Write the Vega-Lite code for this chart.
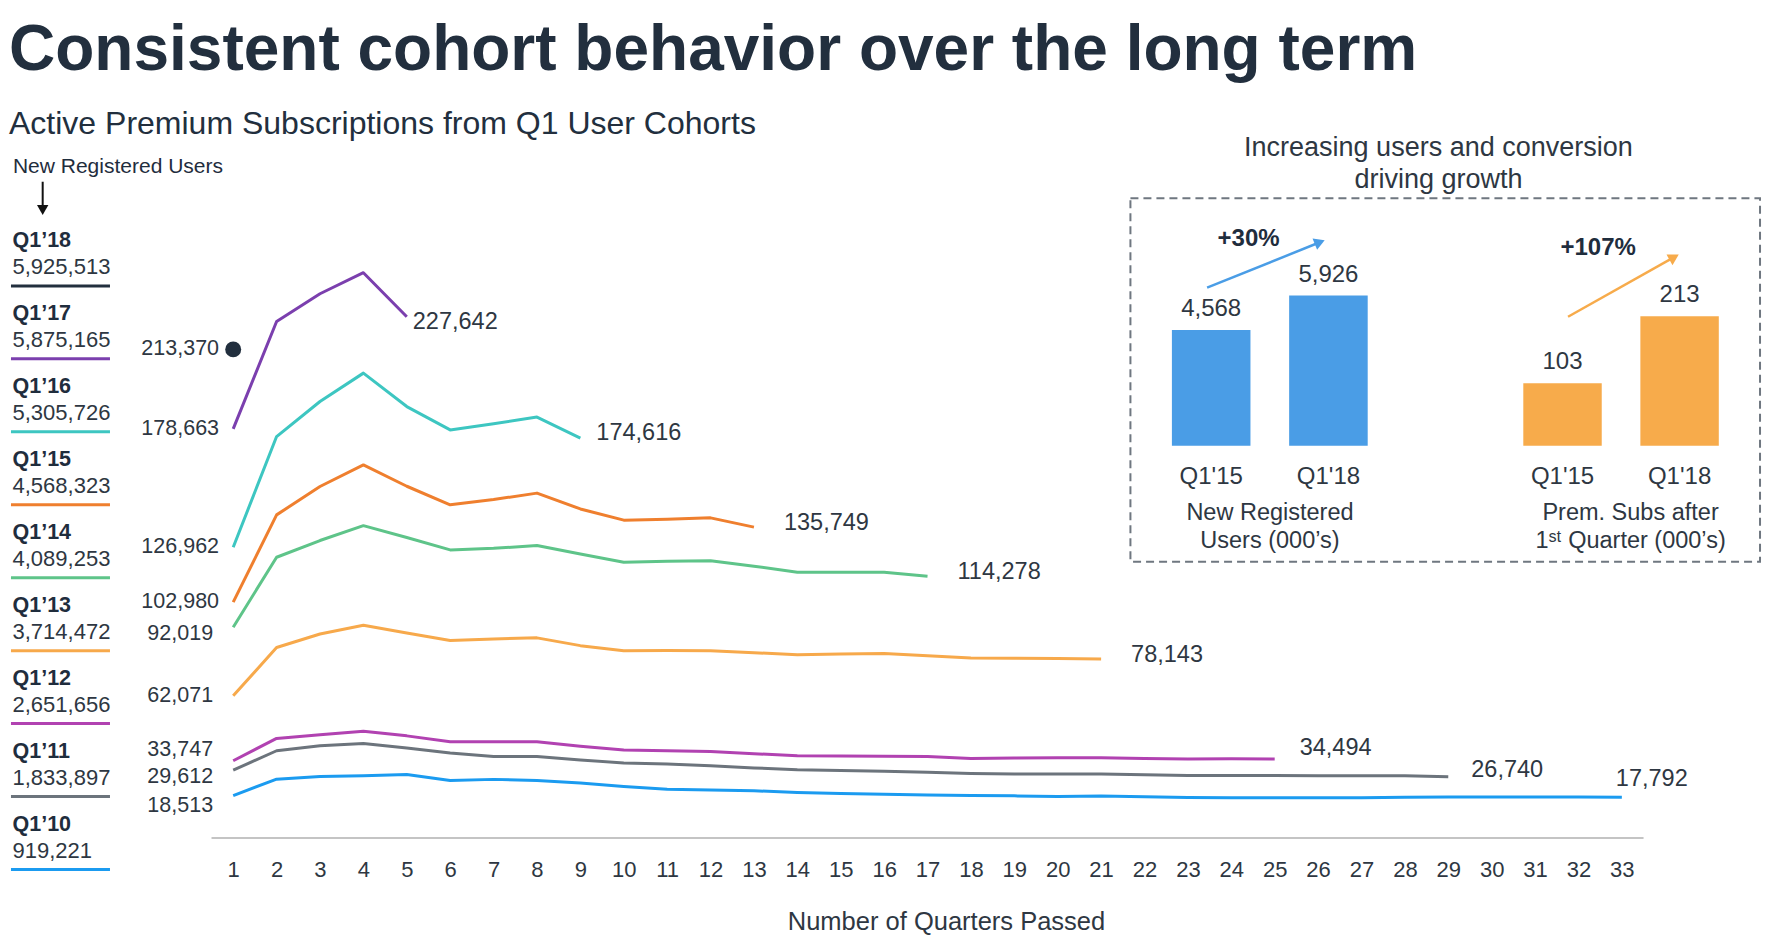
{
  "$schema": "https://vega.github.io/schema/vega-lite/v6.json",
  "width": 1771,
  "height": 698,
  "autosize": {"type": "none"},
  "padding": {"left": 0, "top": 140, "right": 0, "bottom": 104},
  "background": "white",
  "config": {"view": {"stroke": null}, "font": "Liberation Sans"},
  "title": {
    "text": "Consistent cohort behavior over the long term",
    "subtitle": "Active Premium Subscriptions from Q1 User Cohorts",
    "anchor": "start", "frame": "group", "dx": 9, "dy": 6, "offset": 0,
    "font": "Liberation Sans", "fontSize": 64, "fontWeight": "bold", "color": "#222f3e",
    "subtitleFont": "Liberation Sans", "subtitleFontSize": 32, "subtitleColor": "#222f3e", "subtitlePadding": 26
  },
  "datasets": {
    "series": [
      {"c":"Q1’18","q":1,"v":213370},
      {"c":"Q1’17","q":1,"v":178663},{"c":"Q1’17","q":2,"v":225570},{"c":"Q1’17","q":3,"v":237670},{"c":"Q1’17","q":4,"v":246850},{"c":"Q1’17","q":5,"v":227642},
      {"c":"Q1’16","q":1,"v":126962},{"c":"Q1’16","q":2,"v":175300},{"c":"Q1’16","q":3,"v":190600},{"c":"Q1’16","q":4,"v":203000},{"c":"Q1’16","q":5,"v":188400},{"c":"Q1’16","q":6,"v":178200},{"c":"Q1’16","q":7,"v":180900},{"c":"Q1’16","q":8,"v":183800},{"c":"Q1’16","q":9,"v":174616},
      {"c":"Q1’15","q":1,"v":102980},{"c":"Q1’15","q":2,"v":141100},{"c":"Q1’15","q":3,"v":153500},{"c":"Q1’15","q":4,"v":162900},{"c":"Q1’15","q":5,"v":153600},{"c":"Q1’15","q":6,"v":145500},{"c":"Q1’15","q":7,"v":147800},{"c":"Q1’15","q":8,"v":150600},{"c":"Q1’15","q":9,"v":143700},{"c":"Q1’15","q":10,"v":138800},{"c":"Q1’15","q":11,"v":139200},{"c":"Q1’15","q":12,"v":139800},{"c":"Q1’15","q":13,"v":135749},
      {"c":"Q1’14","q":1,"v":92019},{"c":"Q1’14","q":2,"v":122600},{"c":"Q1’14","q":3,"v":129900},{"c":"Q1’14","q":4,"v":136400},{"c":"Q1’14","q":5,"v":131200},{"c":"Q1’14","q":6,"v":125800},{"c":"Q1’14","q":7,"v":126500},{"c":"Q1’14","q":8,"v":127700},{"c":"Q1’14","q":9,"v":124000},{"c":"Q1’14","q":10,"v":120400},{"c":"Q1’14","q":11,"v":120800},{"c":"Q1’14","q":12,"v":121100},{"c":"Q1’14","q":13,"v":118700},{"c":"Q1’14","q":14,"v":116000},{"c":"Q1’14","q":15,"v":116000},{"c":"Q1’14","q":16,"v":116000},{"c":"Q1’14","q":17,"v":114278},
      {"c":"Q1’13","q":1,"v":62071},{"c":"Q1’13","q":2,"v":83200},{"c":"Q1’13","q":3,"v":89100},{"c":"Q1’13","q":4,"v":92900},{"c":"Q1’13","q":5,"v":89500},{"c":"Q1’13","q":6,"v":86200},{"c":"Q1’13","q":7,"v":86900},{"c":"Q1’13","q":8,"v":87400},{"c":"Q1’13","q":9,"v":84000},{"c":"Q1’13","q":10,"v":81800},{"c":"Q1’13","q":11,"v":81900},{"c":"Q1’13","q":12,"v":81800},{"c":"Q1’13","q":13,"v":80900},{"c":"Q1’13","q":14,"v":80000},{"c":"Q1’13","q":15,"v":80300},{"c":"Q1’13","q":16,"v":80600},{"c":"Q1’13","q":17,"v":79600},{"c":"Q1’13","q":18,"v":78600},{"c":"Q1’13","q":19,"v":78500},{"c":"Q1’13","q":20,"v":78400},{"c":"Q1’13","q":21,"v":78143},
      {"c":"Q1’12","q":1,"v":33747},{"c":"Q1’12","q":2,"v":43500},{"c":"Q1’12","q":3,"v":45100},{"c":"Q1’12","q":4,"v":46600},{"c":"Q1’12","q":5,"v":44600},{"c":"Q1’12","q":6,"v":42000},{"c":"Q1’12","q":7,"v":42000},{"c":"Q1’12","q":8,"v":42000},{"c":"Q1’12","q":9,"v":40100},{"c":"Q1’12","q":10,"v":38400},{"c":"Q1’12","q":11,"v":38100},{"c":"Q1’12","q":12,"v":37800},{"c":"Q1’12","q":13,"v":36800},{"c":"Q1’12","q":14,"v":35900},{"c":"Q1’12","q":15,"v":35800},{"c":"Q1’12","q":16,"v":35750},{"c":"Q1’12","q":17,"v":35600},{"c":"Q1’12","q":18,"v":34750},{"c":"Q1’12","q":19,"v":34880},{"c":"Q1’12","q":20,"v":35000},{"c":"Q1’12","q":21,"v":35000},{"c":"Q1’12","q":22,"v":34750},{"c":"Q1’12","q":23,"v":34450},{"c":"Q1’12","q":24,"v":34600},{"c":"Q1’12","q":25,"v":34494},
      {"c":"Q1’11","q":1,"v":29612},{"c":"Q1’11","q":2,"v":38100},{"c":"Q1’11","q":3,"v":40300},{"c":"Q1’11","q":4,"v":41300},{"c":"Q1’11","q":5,"v":39300},{"c":"Q1’11","q":6,"v":37100},{"c":"Q1’11","q":7,"v":35600},{"c":"Q1’11","q":8,"v":35600},{"c":"Q1’11","q":9,"v":34100},{"c":"Q1’11","q":10,"v":32800},{"c":"Q1’11","q":11,"v":32300},{"c":"Q1’11","q":12,"v":31500},{"c":"Q1’11","q":13,"v":30600},{"c":"Q1’11","q":14,"v":29800},{"c":"Q1’11","q":15,"v":29500},{"c":"Q1’11","q":16,"v":29200},{"c":"Q1’11","q":17,"v":28700},{"c":"Q1’11","q":18,"v":28200},{"c":"Q1’11","q":19,"v":28000},{"c":"Q1’11","q":20,"v":27900},{"c":"Q1’11","q":21,"v":28000},{"c":"Q1’11","q":22,"v":27600},{"c":"Q1’11","q":23,"v":27300},{"c":"Q1’11","q":24,"v":27300},{"c":"Q1’11","q":25,"v":27300},{"c":"Q1’11","q":26,"v":27200},{"c":"Q1’11","q":27,"v":27200},{"c":"Q1’11","q":28,"v":27200},{"c":"Q1’11","q":29,"v":26740},
      {"c":"Q1’10","q":1,"v":18513},{"c":"Q1’10","q":2,"v":25700},{"c":"Q1’10","q":3,"v":26900},{"c":"Q1’10","q":4,"v":27200},{"c":"Q1’10","q":5,"v":27700},{"c":"Q1’10","q":6,"v":25100},{"c":"Q1’10","q":7,"v":25600},{"c":"Q1’10","q":8,"v":25100},{"c":"Q1’10","q":9,"v":24000},{"c":"Q1’10","q":10,"v":22500},{"c":"Q1’10","q":11,"v":21300},{"c":"Q1’10","q":12,"v":21000},{"c":"Q1’10","q":13,"v":20600},{"c":"Q1’10","q":14,"v":19900},{"c":"Q1’10","q":15,"v":19400},{"c":"Q1’10","q":16,"v":19100},{"c":"Q1’10","q":17,"v":18800},{"c":"Q1’10","q":18,"v":18600},{"c":"Q1’10","q":19,"v":18400},{"c":"Q1’10","q":20,"v":18100},{"c":"Q1’10","q":21,"v":18300},{"c":"Q1’10","q":22,"v":18000},{"c":"Q1’10","q":23,"v":17700},{"c":"Q1’10","q":24,"v":17600},{"c":"Q1’10","q":25,"v":17600},{"c":"Q1’10","q":26,"v":17550},{"c":"Q1’10","q":27,"v":17550},{"c":"Q1’10","q":28,"v":17800},{"c":"Q1’10","q":29,"v":17850},{"c":"Q1’10","q":30,"v":17900},{"c":"Q1’10","q":31,"v":17900},{"c":"Q1’10","q":32,"v":17900},{"c":"Q1’10","q":33,"v":17792}
    ],
    "legend": [
      {"c":"Q1’18","users":5925513,"rank":0},
      {"c":"Q1’17","users":5875165,"rank":1},
      {"c":"Q1’16","users":5305726,"rank":2},
      {"c":"Q1’15","users":4568323,"rank":3},
      {"c":"Q1’14","users":4089253,"rank":4},
      {"c":"Q1’13","users":3714472,"rank":5},
      {"c":"Q1’12","users":2651656,"rank":6},
      {"c":"Q1’11","users":1833897,"rank":7},
      {"c":"Q1’10","users":919221,"rank":8}
    ],
    "one": [{}]
  },
  "layer": [
    {
      "data": {"name": "series"},
      "encoding": {
        "x": {"field": "q", "type": "quantitative",
          "scale": {"domain": [-4.374, 36.437], "nice": false, "zero": false},
          "axis": {"values": [1,2,3,4,5,6,7,8,9,10,11,12,13,14,15,16,17,18,19,20,21,22,23,24,25,26,27,28,29,30,31,32,33],
            "format": "d", "domain": false, "ticks": false, "tickSize": 0, "grid": false,
            "labelFont": "Liberation Sans", "labelFontSize": 22, "labelColor": "#2e3742", "labelPadding": 21,
            "labelFlush": false, "labelOverlap": false,
            "title": "Number of Quarters Passed", "titleFont": "Liberation Sans", "titleFontSize": 25.5,
            "titleFontWeight": "normal", "titleColor": "#2e3742", "titlePadding": 29, "titleX": 946}},
        "y": {"field": "v", "type": "quantitative", "scale": {"domain": [0, 304800], "nice": false, "zero": false}, "axis": null},
        "color": {"field": "c", "type": "nominal",
          "scale": {"domain": ["Q1’18","Q1’17","Q1’16","Q1’15","Q1’14","Q1’13","Q1’12","Q1’11","Q1’10"],
                    "range": ["#222f3e","#7b3fae","#3dc6c1","#ef7f2e","#5ec489","#f7a94b","#b142b1","#6c747c","#1b9bf0"]},
          "legend": null}
      },
      "layer": [
        {"mark": {"type": "line", "strokeWidth": 3, "strokeJoin": "round"}},
        {"transform": [{"filter": "datum.c === 'Q1’18'"}], "mark": {"type": "point", "filled": true, "size": 255, "opacity": 1}},
        {"transform": [{"filter": "datum.q === 1 && indexof(['Q1’18','Q1’17','Q1’16','Q1’15','Q1’13'], datum.c) >= 0"}],
         "mark": {"type": "text", "align": "center", "baseline": "middle", "dx": -53, "dy": 0, "fontSize": 21.5},
         "encoding": {"text": {"field": "v", "format": ","}, "color": {"value": "#2e3742"}}},
        {"transform": [{"filter": "datum.q === 1 && indexof(['Q1’14','Q1’11'], datum.c) >= 0"}],
         "mark": {"type": "text", "align": "center", "baseline": "middle", "dx": -53, "dy": 7, "fontSize": 21.5},
         "encoding": {"text": {"field": "v", "format": ","}, "color": {"value": "#2e3742"}}},
        {"transform": [{"filter": "datum.q === 1 && datum.c === 'Q1’12'"}],
         "mark": {"type": "text", "align": "center", "baseline": "middle", "dx": -53, "dy": -11, "fontSize": 21.5},
         "encoding": {"text": {"field": "v", "format": ","}, "color": {"value": "#2e3742"}}},
        {"transform": [{"filter": "datum.q === 1 && datum.c === 'Q1’10'"}],
         "mark": {"type": "text", "align": "center", "baseline": "middle", "dx": -53, "dy": 10, "fontSize": 21.5},
         "encoding": {"text": {"field": "v", "format": ","}, "color": {"value": "#2e3742"}}},
        {"transform": [{"joinaggregate": [{"op": "max", "field": "q", "as": "mq"}], "groupby": ["c"]}, {"filter": "datum.q === datum.mq && datum.c === 'Q1’17'"}],
         "mark": {"type": "text", "align": "left", "baseline": "middle", "dx": 6, "dy": 5, "fontSize": 23.5},
         "encoding": {"text": {"field": "v", "format": ","}, "color": {"value": "#2e3742"}}},
        {"transform": [{"joinaggregate": [{"op": "max", "field": "q", "as": "mq"}], "groupby": ["c"]}, {"filter": "datum.q === datum.mq && datum.c === 'Q1’16'"}],
         "mark": {"type": "text", "align": "left", "baseline": "middle", "dx": 16, "dy": -5, "fontSize": 23.5},
         "encoding": {"text": {"field": "v", "format": ","}, "color": {"value": "#2e3742"}}},
        {"transform": [{"joinaggregate": [{"op": "max", "field": "q", "as": "mq"}], "groupby": ["c"]}, {"filter": "datum.q === datum.mq && indexof(['Q1’15','Q1’14','Q1’13'], datum.c) >= 0"}],
         "mark": {"type": "text", "align": "left", "baseline": "middle", "dx": 30, "dy": -4.5, "fontSize": 23.5},
         "encoding": {"text": {"field": "v", "format": ","}, "color": {"value": "#2e3742"}}},
        {"transform": [{"joinaggregate": [{"op": "max", "field": "q", "as": "mq"}], "groupby": ["c"]}, {"filter": "datum.q === datum.mq && datum.c === 'Q1’12'"}],
         "mark": {"type": "text", "align": "left", "baseline": "middle", "dx": 25, "dy": -11, "fontSize": 23.5},
         "encoding": {"text": {"field": "v", "format": ","}, "color": {"value": "#2e3742"}}},
        {"transform": [{"joinaggregate": [{"op": "max", "field": "q", "as": "mq"}], "groupby": ["c"]}, {"filter": "datum.q === datum.mq && datum.c === 'Q1’11'"}],
         "mark": {"type": "text", "align": "left", "baseline": "middle", "dx": 23, "dy": -7, "fontSize": 23.5},
         "encoding": {"text": {"field": "v", "format": ","}, "color": {"value": "#2e3742"}}},
        {"transform": [{"joinaggregate": [{"op": "max", "field": "q", "as": "mq"}], "groupby": ["c"]}, {"filter": "datum.q === datum.mq && datum.c === 'Q1’10'"}],
         "mark": {"type": "text", "align": "left", "baseline": "middle", "dx": -6, "dy": -18, "fontSize": 23.5},
         "encoding": {"text": {"field": "v", "format": ","}, "color": {"value": "#2e3742"}}}
      ]
    },
    {
      "data": {"name": "one"},
      "encoding": {
        "x": {"datum": 0.5, "type": "quantitative", "scale": {"domain": [-4.374, 36.437], "nice": false, "zero": false}, "axis": null},
        "y": {"datum": 0, "type": "quantitative", "scale": {"domain": [0, 304800], "nice": false, "zero": false}, "axis": null}
      },
      "layer": [
        {"mark": {"type": "rule", "color": "#c4c4c4", "strokeWidth": 2},
         "encoding": {"x2": {"datum": 33.5}}}
      ]
    },
    {
      "data": {"name": "legend"},
      "encoding": {
        "x": {"datum": 0.706, "type": "quantitative", "scale": {"domain": [0, 100], "nice": false, "zero": false}, "axis": null},
        "y": {"field": "rank", "type": "quantitative", "scale": {"domain": [-2, 7.568], "reverse": true, "nice": false, "zero": false}, "axis": null}
      },
      "layer": [
        {"mark": {"type": "rule", "strokeWidth": 3},
         "encoding": {
           "x": {"datum": 0.62},
           "x2": {"datum": 6.21},
           "color": {"field": "c", "type": "nominal",
             "scale": {"domain": ["Q1’18","Q1’17","Q1’16","Q1’15","Q1’14","Q1’13","Q1’12","Q1’11","Q1’10"],
                       "range": ["#222f3e","#7b3fae","#3dc6c1","#ef7f2e","#5ec489","#f7a94b","#b142b1","#6c747c","#1b9bf0"]},
             "legend": null}}},
        {"mark": {"type": "text", "align": "left", "baseline": "alphabetic", "dy": -39, "fontSize": 21.5, "fontWeight": "bold", "color": "#1f2d3d"},
         "encoding": {"text": {"field": "c"}}},
        {"mark": {"type": "text", "align": "left", "baseline": "alphabetic", "dy": -11.5, "fontSize": 22, "color": "#2e3742"},
         "encoding": {"text": {"field": "users", "format": ","}}}
      ]
    },
    {
      "data": {"name": "one"},
      "encoding": {
        "x": {"datum": 0.73, "type": "quantitative", "scale": {"domain": [0, 100], "nice": false, "zero": false}, "axis": null},
        "y": {"datum": -2, "type": "quantitative", "scale": {"domain": [-2, 7.568], "reverse": true, "nice": false, "zero": false}, "axis": null}
      },
      "layer": [
        {"mark": {"type": "text", "align": "left", "baseline": "alphabetic", "dy": 33.3, "fontSize": 21, "color": "#1f2d3d"},
         "encoding": {"text": {"value": "New Registered Users"}}},
        {"mark": {"type": "rule", "strokeWidth": 2, "color": "#111111"},
         "encoding": {"x": {"datum": 2.41}, "y": {"datum": -1.428}, "y2": {"datum": -1.096}}},
        {"mark": {"type": "point", "shape": "triangle-down", "filled": true, "size": 130, "color": "#111111", "opacity": 1},
         "encoding": {"x": {"datum": 2.41}, "y": {"datum": -1.04}}}
      ]
    },
    {
      "data": {"name": "one"},
      "encoding": {
        "x": {"datum": 0, "type": "quantitative", "scale": {"domain": [0, 100], "nice": false, "zero": false}, "axis": null},
        "y": {"datum": 0, "type": "quantitative", "scale": {"domain": [0, 100], "reverse": true, "nice": false, "zero": false}, "axis": null}
      },
      "layer": [
        {"mark": {"type": "rect", "fill": null, "fillOpacity": 0, "stroke": "#6f7780", "strokeWidth": 2, "strokeDash": [8, 5]},
         "encoding": {"x": {"datum": 63.83}, "x2": {"datum": 99.38}, "y": {"datum": 8.35}, "y2": {"datum": 60.42}}},
        {"mark": {"type": "text", "align": "center", "baseline": "alphabetic", "fontSize": 27, "lineHeight": 32.6, "color": "#2e3742"},
         "encoding": {"x": {"datum": 81.22}, "y": {"datum": 2.249}, "text": {"value": ["Increasing users and conversion", "driving growth"]}}},
        {"mark": {"type": "text", "align": "center", "baseline": "alphabetic", "fontSize": 23.5, "lineHeight": 28.3, "color": "#2e3742"},
         "encoding": {"x": {"datum": 71.71}, "y": {"datum": 54.44}, "text": {"value": ["New Registered", "Users (000’s)"]}}},
        {"mark": {"type": "text", "align": "center", "baseline": "alphabetic", "fontSize": 23.5, "lineHeight": 28.3, "color": "#2e3742"},
         "encoding": {"x": {"datum": 92.07}, "y": {"datum": 54.44}, "text": {"value": ["Prem. Subs after", "1ˢᵗ Quarter (000’s)"]}}},
        {"mark": {"type": "text", "align": "center", "baseline": "alphabetic", "fontSize": 24, "fontWeight": "bold", "color": "#1f2d3d"},
         "encoding": {"x": {"datum": 70.5}, "y": {"datum": 15.19}, "text": {"value": "+30%"}}},
        {"mark": {"type": "text", "align": "center", "baseline": "alphabetic", "fontSize": 24, "fontWeight": "bold", "color": "#1f2d3d"},
         "encoding": {"x": {"datum": 90.24}, "y": {"datum": 16.48}, "text": {"value": "+107%"}}},
        {"mark": {"type": "rule", "strokeWidth": 2.5, "color": "#4a9de6"},
         "encoding": {"x": {"datum": 68.16}, "y": {"datum": 21.16}, "x2": {"datum": 74.42}, "y2": {"datum": 14.76}}},
        {"mark": {"type": "point", "shape": "triangle-right", "filled": true, "size": 150, "angle": 338, "color": "#4a9de6", "opacity": 1},
         "encoding": {"x": {"datum": 74.52}, "y": {"datum": 14.64}}},
        {"mark": {"type": "rule", "strokeWidth": 2.5, "color": "#f7ab4b"},
         "encoding": {"x": {"datum": 88.54}, "y": {"datum": 25.32}, "x2": {"datum": 94.43}, "y2": {"datum": 16.93}}},
        {"mark": {"type": "point", "shape": "triangle-right", "filled": true, "size": 150, "angle": 330.7, "color": "#f7ab4b", "opacity": 1},
         "encoding": {"x": {"datum": 94.53}, "y": {"datum": 16.79}}}
      ]
    },
    {
      "data": {"values": [{"cat": "Q1'15", "val": 4568}, {"cat": "Q1'18", "val": 5926}]},
      "encoding": {
        "x": {"field": "cat", "type": "nominal", "scale": {"domain": ["Q1'15", "Q1'18"], "range": [1171.9, 1367.7], "paddingInner": 0.33, "paddingOuter": 0, "round": false}, "axis": null},
        "y": {"field": "val", "type": "quantitative", "scale": {"domain": [-15487, 12069], "nice": false, "zero": false}, "axis": null}
      },
      "layer": [
        {"mark": {"type": "bar", "color": "#4a9de6"}, "encoding": {"y2": {"datum": 0}}},
        {"mark": {"type": "text", "baseline": "alphabetic", "dy": -14, "fontSize": 24, "color": "#2e3742"},
         "encoding": {"text": {"field": "val", "format": ","}}},
        {"mark": {"type": "text", "baseline": "alphabetic", "dy": 38.6, "fontSize": 24, "color": "#2e3742"},
         "encoding": {"y": {"datum": 0, "type": "quantitative"}, "text": {"field": "cat"}}}
      ]
    },
    {
      "data": {"values": [{"cat": "Q1'15", "val": 103}, {"cat": "Q1'18", "val": 213}]},
      "encoding": {
        "x": {"field": "cat", "type": "nominal", "scale": {"domain": ["Q1'15", "Q1'18"], "range": [1523.3, 1718.8], "paddingInner": 0.33, "paddingOuter": 0, "round": false}, "axis": null},
        "y": {"field": "val", "type": "quantitative", "scale": {"domain": [-645.9, 503.3], "nice": false, "zero": false}, "axis": null}
      },
      "layer": [
        {"mark": {"type": "bar", "color": "#f7ab4b"}, "encoding": {"y2": {"datum": 0}}},
        {"mark": {"type": "text", "baseline": "alphabetic", "dy": -14, "fontSize": 24, "color": "#2e3742"},
         "encoding": {"text": {"field": "val", "format": ","}}},
        {"mark": {"type": "text", "baseline": "alphabetic", "dy": 38.6, "fontSize": 24, "color": "#2e3742"},
         "encoding": {"y": {"datum": 0, "type": "quantitative"}, "text": {"field": "cat"}}}
      ]
    }
  ],
  "resolve": {"scale": {"x": "independent", "y": "independent"}}
}
